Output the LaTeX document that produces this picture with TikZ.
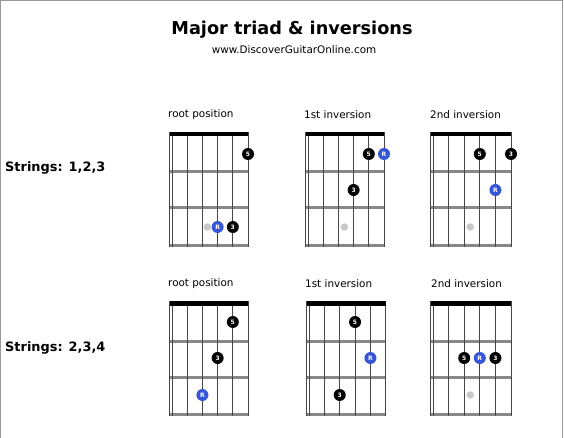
\documentclass[tikz,border=0pt]{standalone}
\usepackage{fontspec}
\setmainfont{DejaVu Sans}
\definecolor{rootblue}{RGB}{55,85,215}
\definecolor{fretgray}{RGB}{135,135,135}
\definecolor{strgray}{RGB}{70,70,70}
\definecolor{ghost}{RGB}{200,200,200}
\tikzset{
  fretline/.style={draw=fretgray,line width=3pt},
  stringline/.style={draw=strgray,line width=0.9pt},
  nutbar/.style={fill=black},
  frame/.style={draw=gray!80,line width=1pt},
  bdot/.style={circle,fill=black,inner sep=0pt,minimum size=12pt,text=white,font=\fontsize{6}{6}\selectfont\bfseries},
  rdot/.style={circle,fill=rootblue,inner sep=0pt,minimum size=12pt,text=white,font=\fontsize{6}{6}\selectfont\bfseries},
  gdot/.style={circle,fill=ghost,inner sep=0pt,minimum size=7.5pt},
  lbl/.style={anchor=west,font=\fontsize{10.4}{12}\selectfont,inner sep=0pt},
  rowlbl/.style={anchor=west,font=\fontsize{12.9}{14}\selectfont\bfseries,inner sep=0pt},
  ttl/.style={font=\fontsize{17.7}{19}\selectfont\bfseries,inner sep=0pt},
  sub/.style={font=\fontsize{10.4}{12}\selectfont,inner sep=0pt}
}
\newcommand\drawboard[3]{%
  \foreach \f in {40,76,113} \draw[fretline] (#1-2.5,#3+\f) -- (#1+5*#2,#3+\f);
  \foreach \s in {0,...,5} \draw[stringline] (#1+\s*#2,#3) -- (#1+\s*#2,#3+114.5);
  \draw[stringline] (#1-2.5,#3) -- (#1-2.5,#3+114.5);
  \fill[nutbar] (#1-2.5,#3) rectangle (#1+5*#2,#3+4.5);
}
\begin{document}
\begin{tikzpicture}[x=1pt,y=-1pt]
\useasboundingbox (0,0) rectangle (564,438);
\fill[white] (0,0) rectangle (564,438);
\draw[frame] (0.5,438) -- (0.5,0.5) -- (562.5,0.5) -- (562.5,438);

\node[ttl] (title) at (292,30) {Major triad \& inversions};
\node[sub] (subtitle) at (294,50) {www.DiscoverGuitarOnline.com};

\node[rowlbl] (row1) at (5,168) {Strings: 1,2,3};
\node[rowlbl] (row2) at (5,348) {Strings: 2,3,4};

\node[lbl] (l11) at (168,115) {root position};
\node[lbl] (l12) at (304,115) {1st inversion};
\node[lbl] (l13) at (430,115) {2nd inversion};
\node[lbl] (l21) at (168,284) {root position};
\node[lbl] (l22) at (305,284) {1st inversion};
\node[lbl] (l23) at (431,284) {2nd inversion};

% row 1 boards
\drawboard{172}{15.2}{132}
\drawboard{308}{15.2}{132}
\drawboard{433}{15.6}{132}
% row 2 boards
\drawboard{172}{15.2}{301}
\drawboard{309}{15.35}{301}
\drawboard{433}{15.6}{301}

% row 1, root position
\node[bdot] (a5) at (172+5*15.2,154) {5};
\node[gdot] (ag) at (172+2*15.2+5,227) {};
\node[rdot] (aR) at (172+3*15.2,227) {R};
\node[bdot] (a3) at (172+4*15.2,227) {3};
% row 1, 1st inversion
\node[bdot] (b5) at (308+4*15.2,154) {5};
\node[rdot] (bR) at (308+5*15.2,154) {R};
\node[bdot] (b3) at (308+3*15.2,190) {3};
\node[gdot] (bg) at (308+2*15.2+6,227) {};
% row 1, 2nd inversion
\node[bdot] (c5) at (433+3*15.6,154) {5};
\node[bdot] (c3) at (433+5*15.6,154) {3};
\node[rdot] (cR) at (433+4*15.6,190) {R};
\node[gdot] (cg) at (433+2*15.6+6,227) {};

% row 2, root position
\node[bdot] (d5) at (172+4*15.2,322) {5};
\node[bdot] (d3) at (172+3*15.2,358) {3};
\node[rdot] (dR) at (172+2*15.2,395) {R};
% row 2, 1st inversion
\node[bdot] (e5) at (309+3*15.35,322) {5};
\node[rdot] (eR) at (309+4*15.35,358) {R};
\node[bdot] (e3) at (309+2*15.35,395) {3};
% row 2, 2nd inversion
\node[bdot] (f5) at (433+2*15.6,358) {5};
\node[rdot] (fR) at (433+3*15.6,358) {R};
\node[bdot] (f3) at (433+4*15.6,358) {3};
\node[gdot] (fg) at (433+2*15.6+6,395) {};
\end{tikzpicture}
\end{document}
